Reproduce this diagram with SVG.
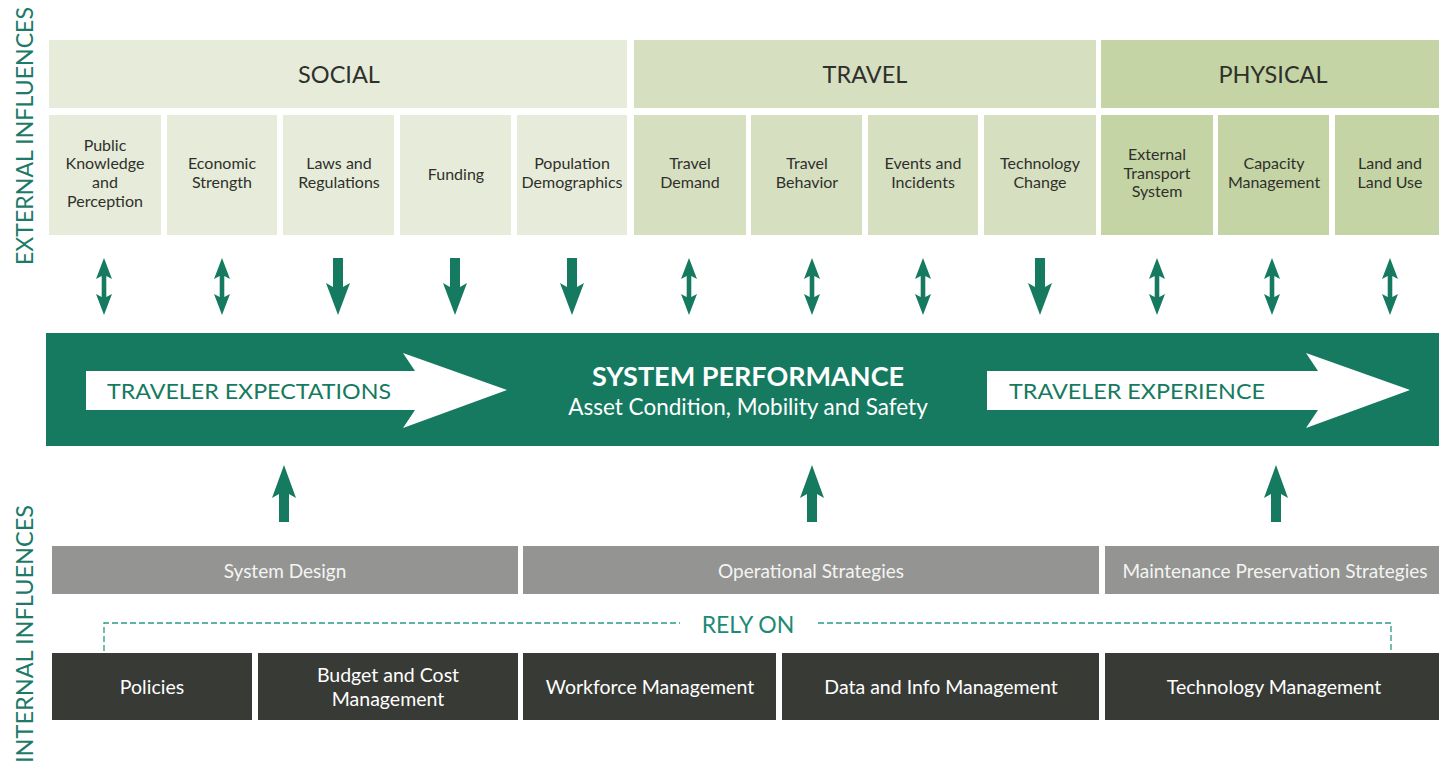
<svg xmlns="http://www.w3.org/2000/svg" width="1439" height="763" viewBox="0 0 1439 763">
  <defs>
    <style>
      text { font-family: Lato, "Open Sans", "Liberation Sans", sans-serif; text-anchor: middle; }
      .side { fill: #1d7a68; font-size: 23px; }
      .hdr { fill: #2f302c; font-size: 23.5px; }
      .sub { fill: #2f302c; font-size: 16px; }
      .social { fill: #e6ecd9; }
      .travel { fill: #d6dfc0; }
      .physical { fill: #c4d4a5; }
      .band { fill: #157a60; }
      .arrow { fill: #157a60; }
      .band-lbl { fill: #157a60; font-size: 22px; text-anchor: start; }
      .strategy { fill: #949593; }
      .strategy-lbl { fill: #f4f4f2; font-size: 19px; }
      .resource { fill: #383a35; }
      .resource-lbl { fill: #ffffff; font-size: 19.5px; }
      .dash { fill: none; stroke: #2a9a84; stroke-width: 1.3; stroke-dasharray: 6 3; }
    </style>
    <path id="dbl" d="M0,258 L8,279 L2.3,276 L2.3,297 L8,294 L0,315 L-8,294 L-2.3,297 L-2.3,276 L-8,279 Z"/>
    <path id="down" d="M-5,258 L5,258 L5,287 L12,283 L0,315 L-12,283 L-5,287 Z"/>
    <path id="up" d="M0,465 L12,498 L5,494 L5,522 L-5,522 L-5,494 L-12,498 Z"/>
  </defs>

  <rect width="1439" height="763" fill="#ffffff"/>

  <!-- side captions -->
  <text class="side" transform="translate(33,136) rotate(-90)" textLength="258" lengthAdjust="spacingAndGlyphs">EXTERNAL INFLUENCES</text>
  <text class="side" transform="translate(33,634) rotate(-90)" textLength="258" lengthAdjust="spacingAndGlyphs">INTERNAL INFLUENCES</text>

  <!-- category headers -->
  <g id="hdr-social"><rect class="social" x="49" y="40" width="578" height="68"/><text class="hdr" x="339" y="83">SOCIAL</text></g>
  <g id="hdr-travel"><rect class="travel" x="634" y="40" width="462" height="68"/><text class="hdr" x="865" y="83">TRAVEL</text></g>
  <g id="hdr-physical"><rect class="physical" x="1101" y="40" width="338" height="68"/><text class="hdr" x="1273" y="83">PHYSICAL</text></g>

  <!-- external influence factors -->
  <g id="public-knowledge"><rect class="social" x="49" y="115" width="112" height="120"/>
    <text class="sub" x="105" y="151">Public</text><text class="sub" x="105" y="169">Knowledge</text><text class="sub" x="105" y="188">and</text><text class="sub" x="105" y="207">Perception</text></g>
  <g id="economic-strength"><rect class="social" x="167" y="115" width="110" height="120"/>
    <text class="sub" x="222" y="169">Economic</text><text class="sub" x="222" y="188">Strength</text></g>
  <g id="laws"><rect class="social" x="283" y="115" width="111" height="120"/>
    <text class="sub" x="339" y="169">Laws and</text><text class="sub" x="339" y="188">Regulations</text></g>
  <g id="funding"><rect class="social" x="400" y="115" width="111" height="120"/>
    <text class="sub" x="456" y="180">Funding</text></g>
  <g id="population"><rect class="social" x="517" y="115" width="110" height="120"/>
    <text class="sub" x="572" y="169">Population</text><text class="sub" x="572" y="188">Demographics</text></g>
  <g id="travel-demand"><rect class="travel" x="634" y="115" width="112" height="120"/>
    <text class="sub" x="690" y="169">Travel</text><text class="sub" x="690" y="188">Demand</text></g>
  <g id="travel-behavior"><rect class="travel" x="751" y="115" width="111" height="120"/>
    <text class="sub" x="807" y="169">Travel</text><text class="sub" x="807" y="188">Behavior</text></g>
  <g id="events"><rect class="travel" x="868" y="115" width="110" height="120"/>
    <text class="sub" x="923" y="169">Events and</text><text class="sub" x="923" y="188">Incidents</text></g>
  <g id="technology-change"><rect class="travel" x="984" y="115" width="112" height="120"/>
    <text class="sub" x="1040" y="169">Technology</text><text class="sub" x="1040" y="188">Change</text></g>
  <g id="external-transport"><rect class="physical" x="1101" y="115" width="112" height="120"/>
    <text class="sub" x="1157" y="160">External</text><text class="sub" x="1157" y="179">Transport</text><text class="sub" x="1157" y="197">System</text></g>
  <g id="capacity"><rect class="physical" x="1218" y="115" width="111" height="120"/>
    <text class="sub" x="1274" y="169">Capacity</text><text class="sub" x="1274" y="188">Management</text></g>
  <g id="land-use"><rect class="physical" x="1335" y="115" width="104" height="120"/>
    <text class="sub" x="1390" y="169">Land and</text><text class="sub" x="1390" y="188">Land Use</text></g>

  <!-- connectors -->
  <g id="connectors" class="arrow">
    <use href="#dbl" x="104"/>
    <use href="#dbl" x="222"/>
    <use href="#down" x="338"/>
    <use href="#down" x="455"/>
    <use href="#down" x="572"/>
    <use href="#dbl" x="689"/>
    <use href="#dbl" x="812"/>
    <use href="#dbl" x="923"/>
    <use href="#down" x="1040"/>
    <use href="#dbl" x="1157"/>
    <use href="#dbl" x="1272"/>
    <use href="#dbl" x="1390"/>
    <use href="#up" x="284"/>
    <use href="#up" x="812"/>
    <use href="#up" x="1276"/>
    <path class="dash" d="M104,651 V623 H680 M818,623 H1391 V651"/>
  </g>

  <!-- system performance band -->
  <g id="system-performance">
    <rect class="band" x="46" y="333" width="1393" height="113"/>
    <polygon fill="#ffffff" points="86,371 415,371 403,353 507,390 403,428 415,410 86,410"/>
    <text class="band-lbl" x="107" y="399" textLength="284" lengthAdjust="spacingAndGlyphs">TRAVELER EXPECTATIONS</text>
    <polygon fill="#ffffff" points="987,371 1318,371 1306,353 1410,390 1306,428 1318,410 987,410"/>
    <text class="band-lbl" x="1009" y="399" textLength="256" lengthAdjust="spacingAndGlyphs">TRAVELER EXPERIENCE</text>
    <text x="748" y="386" fill="#ffffff" font-size="27" font-weight="bold">SYSTEM PERFORMANCE</text>
    <text x="748" y="415" fill="#ffffff" font-size="22.5">Asset Condition, Mobility and Safety</text>
  </g>

  <!-- strategies -->
  <g id="system-design"><rect class="strategy" x="52" y="546" width="466" height="48"/><text class="strategy-lbl" x="285" y="578">System Design</text></g>
  <g id="operational"><rect class="strategy" x="523" y="546" width="576" height="48"/><text class="strategy-lbl" x="811" y="578">Operational Strategies</text></g>
  <g id="maintenance"><rect class="strategy" x="1105" y="546" width="334" height="48"/><text class="strategy-lbl" x="1275" y="578">Maintenance Preservation Strategies</text></g>

  <text x="748" y="633" fill="#1d8a74" font-size="23">RELY ON</text>

  <!-- supporting resources -->
  <g id="policies"><rect class="resource" x="52" y="653" width="200" height="67"/><text class="resource-lbl" x="152" y="694">Policies</text></g>
  <g id="budget"><rect class="resource" x="258" y="653" width="260" height="67"/><text class="resource-lbl" x="388" y="682">Budget and Cost</text><text class="resource-lbl" x="388" y="706">Management</text></g>
  <g id="workforce"><rect class="resource" x="523" y="653" width="253" height="67"/><text class="resource-lbl" x="650" y="694">Workforce Management</text></g>
  <g id="data-info"><rect class="resource" x="782" y="653" width="317" height="67"/><text class="resource-lbl" x="941" y="694">Data and Info Management</text></g>
  <g id="technology-mgmt"><rect class="resource" x="1105" y="653" width="334" height="67"/><text class="resource-lbl" x="1274" y="694">Technology Management</text></g>
</svg>
